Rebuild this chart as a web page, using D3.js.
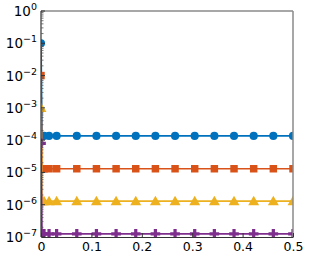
<!DOCTYPE html>
<html>
<head>
<meta charset="utf-8">
<script src="https://cdn.jsdelivr.net/npm/d3@7"></script>
<style>
  body { margin: 0; background: #fff; }
  text { font-family: "DejaVu Sans", sans-serif; }
</style>
</head>
<body>
<div id="chart"></div>
<script>
// x positions of the samples (shared by all series)
var xs = [0, 0.002, 0.006, 0.016, 0.031, 0.071, 0.110, 0.149, 0.188, 0.227, 0.266, 0.305, 0.344, 0.383, 0.422, 0.461, 0.5];
var startValues = [1e-1, 1e-2, 1e-3, 8e-5];
var plateauValues = [1.35e-4, 1.3e-5, 1.3e-6, 1.25e-7];
var colors = ["#0072BD", "#D95319", "#EDB120", "#7E2F8E"];
var xTicks = [0, 0.1, 0.2, 0.3, 0.4, 0.5];
var yTicks = [0, -1, -2, -3, -4, -5, -6, -7];

var width = 310, height = 260;
var margin = {top: 11, right: 17, bottom: 23, left: 41};
var innerWidth = width - margin.left - margin.right;
var innerHeight = height - margin.top - margin.bottom;

var svg = d3.select("#chart").append("svg")
  .attr("width", width)
  .attr("height", height);

var canvas = svg.append("g")
  .attr("transform", "translate(" + margin.left + "," + margin.top + ")");

var x = d3.scaleLinear().domain([0, 0.5]).range([0, innerWidth]);
var y = d3.scaleLog().domain([1e-7, 1]).range([innerHeight, 0]);

// build the series: start value at x=0, plateau afterwards
var series = startValues.map(function(s, i) {
  return xs.map(function(xv, j) {
    return {x: xv, y: j === 0 ? s : plateauValues[i]};
  });
});

var symbols = [d3.symbolCircle, d3.symbolSquare, d3.symbolTriangle, d3.symbolCross];
var sizes = [52, 56, 52, 52];

svg.append("defs").append("clipPath").attr("id", "clip")
  .append("rect").attr("width", innerWidth).attr("height", innerHeight);

var plot = canvas.append("g").attr("clip-path", "url(#clip)");

var line = d3.line()
  .x(function(d) { return x(d.x); })
  .y(function(d) { return y(d.y); });

series.forEach(function(s, i) {
  plot.append("path")
    .datum(s)
    .attr("fill", "none")
    .attr("stroke", colors[i])
    .attr("stroke-width", 1.7)
    .attr("d", line);

  plot.selectAll(".m" + i)
    .data(s)
    .enter().append("path")
      .attr("class", "m" + i)
      .attr("transform", function(d) {
        var dy = i === 2 ? 1 : 0;
        return "translate(" + x(d.x) + "," + (y(d.y) + dy) + ")";
      })
      .attr("d", d3.symbol().type(symbols[i]).size(sizes[i]))
      .attr("fill", colors[i]);
});

// frame
canvas.append("line").attr("x1", 0).attr("x2", innerWidth).attr("y1", 0).attr("y2", 0)
  .attr("stroke", "#8a8a8a").attr("stroke-width", 1.5);
canvas.append("line").attr("x1", innerWidth).attr("x2", innerWidth).attr("y1", 0).attr("y2", innerHeight)
  .attr("stroke", "#8a8a8a").attr("stroke-width", 1.5);

// x axis
var xAxis = canvas.append("g")
  .attr("transform", "translate(0," + innerHeight + ")")
  .call(d3.axisBottom(x).tickValues(xTicks).tickSizeInner(-4).tickSizeOuter(0)
    .tickFormat(function(d) { return d === 0 ? "0" : d3.format(".1f")(d); }));
xAxis.select(".domain").attr("stroke", "#333").attr("stroke-width", 1.2);
xAxis.selectAll(".tick line").attr("stroke", "#333");
xAxis.selectAll(".tick text")
  .attr("y", 5)
  .attr("dy", "0.71em")
  .attr("font-size", 12.5)
  .attr("fill", "#000")
  .attr("font-family", "DejaVu Sans, sans-serif");

// y axis with minor ticks
var minor = [];
for (var e = -7; e < 0; e++) {
  for (var k = 2; k <= 9; k++) minor.push(k * Math.pow(10, e));
}
var yAxis = canvas.append("g");
yAxis.append("line")
  .attr("x1", 0).attr("x2", 0).attr("y1", 0).attr("y2", innerHeight)
  .attr("stroke", "#333").attr("stroke-width", 1.2);
yAxis.selectAll(".minor")
  .data(minor)
  .enter().append("line")
    .attr("class", "minor")
    .attr("x1", 0).attr("x2", 2.5)
    .attr("y1", function(d) { return y(d); })
    .attr("y2", function(d) { return y(d); })
    .attr("stroke", "#555").attr("stroke-width", 0.8);
yAxis.selectAll(".major")
  .data(yTicks)
  .enter().append("line")
    .attr("class", "major")
    .attr("x1", 0).attr("x2", 4)
    .attr("y1", function(d) { return y(Math.pow(10, d)); })
    .attr("y2", function(d) { return y(Math.pow(10, d)); })
    .attr("stroke", "#333");

var lab = yAxis.selectAll(".lab")
  .data(yTicks)
  .enter().append("text")
    .attr("class", "lab")
    .attr("x", -4)
    .attr("y", function(d) { return y(Math.pow(10, d)) + 5; })
    .attr("text-anchor", "end")
    .attr("fill", "#000")
    .attr("font-size", 13.5);
lab.append("tspan").text("10");
lab.append("tspan")
  .attr("dy", -6)
  .attr("font-size", 9.5)
  .text(function(d) { return d === 0 ? "0" : "\u2212" + (-d); });
</script>
</body>
</html>
